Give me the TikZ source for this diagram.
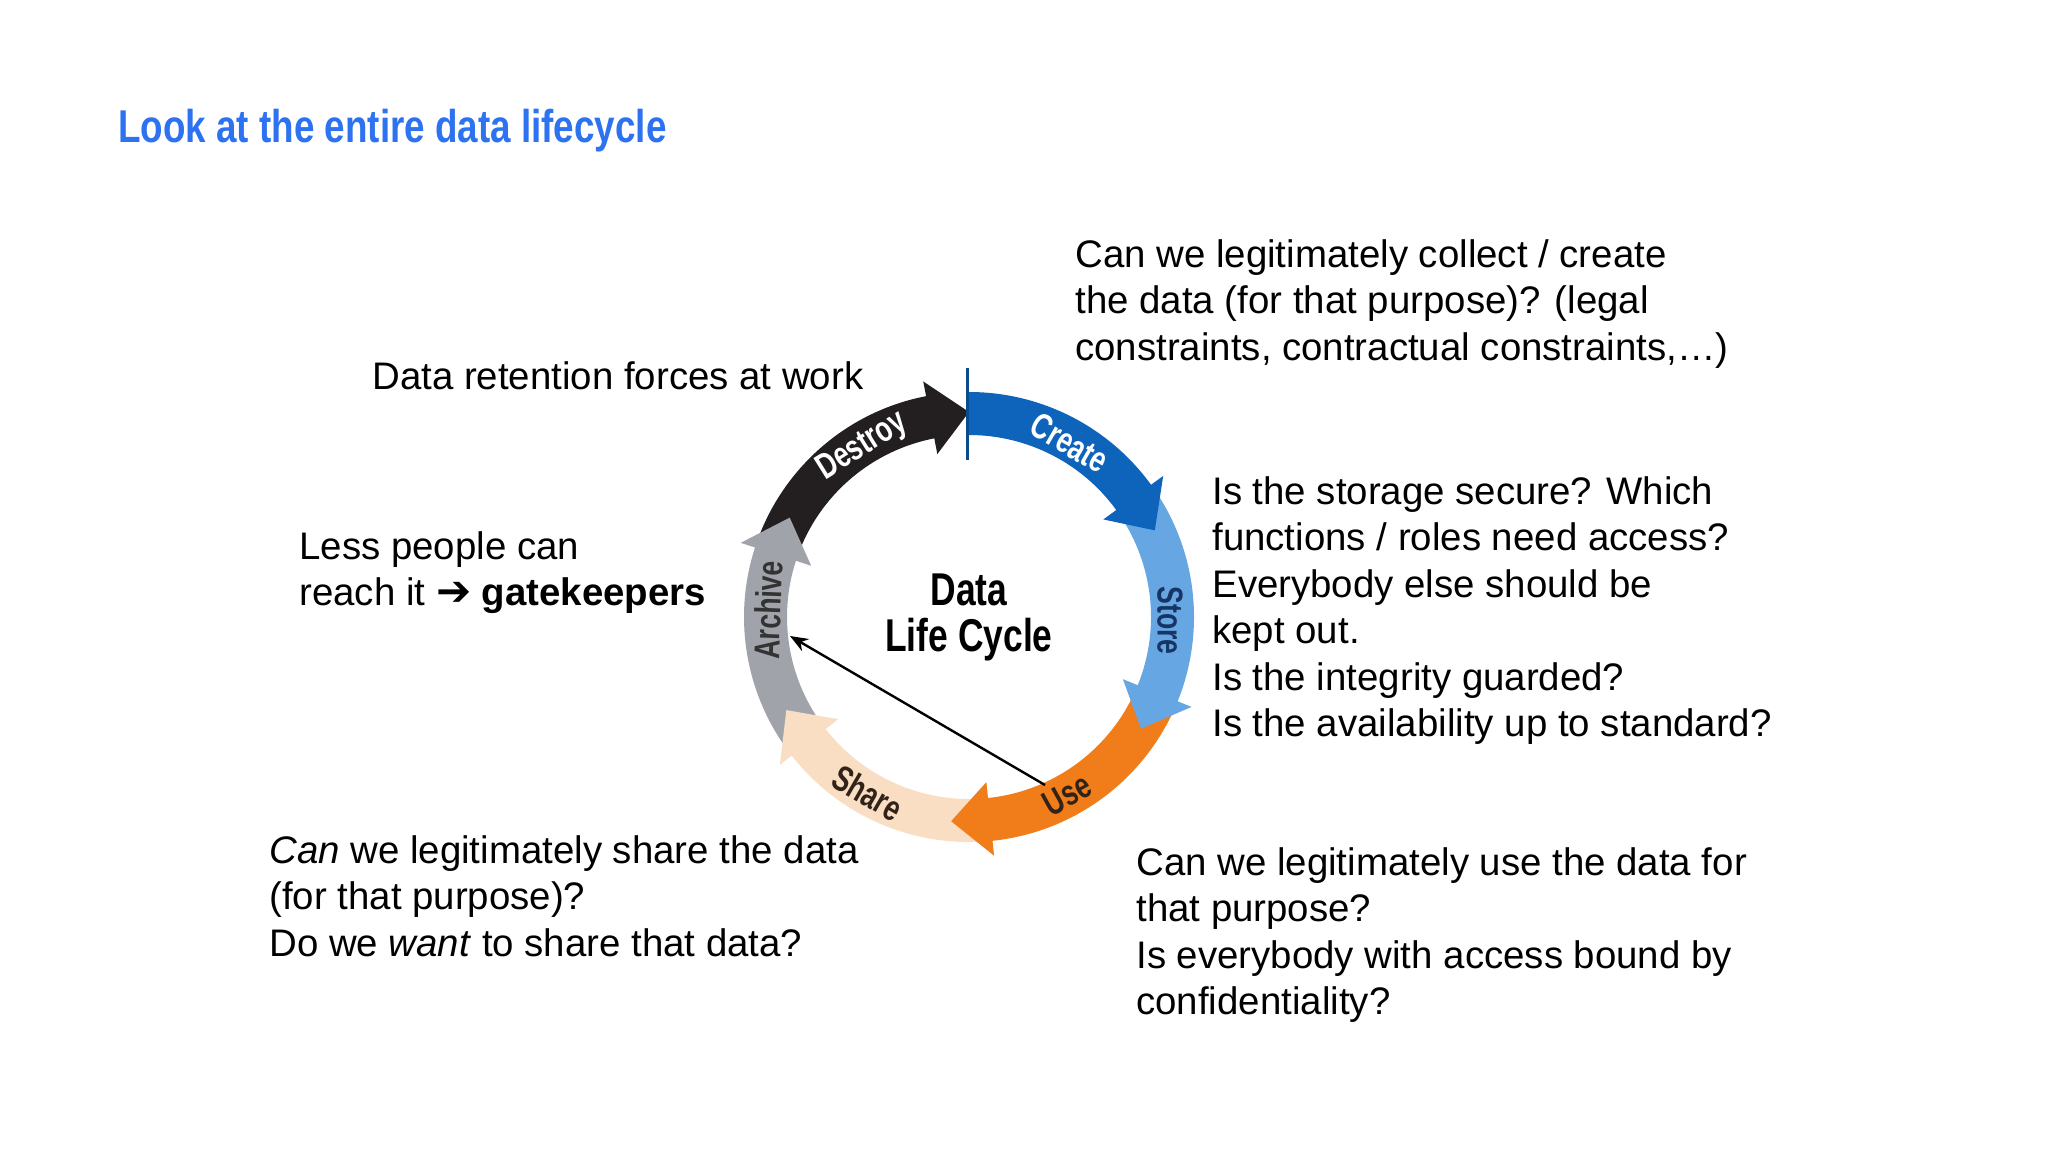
\documentclass[tikz,border=0pt]{standalone}
\usepackage{fontspec}
\setmainfont{Liberation Sans}
\newfontfamily\condfont[FakeStretch=0.8]{Liberation Sans}
\newfontfamily\labelfont[FakeStretch=0.74]{Liberation Sans}
\newfontfamily\centerfont[FakeStretch=0.77]{Liberation Sans}
\newfontfamily\dejavu{DejaVu Sans}
\usetikzlibrary{arrows.meta}
\definecolor{titleblue}{RGB}{45,114,240}
\definecolor{createblue}{RGB}{14,100,186}
\definecolor{storeblue}{RGB}{102,166,226}
\definecolor{useorange}{RGB}{240,125,25}
\definecolor{sharepeach}{RGB}{250,222,195}
\definecolor{archivegrey}{RGB}{160,164,170}
\definecolor{destroyblack}{RGB}{35,31,32}
\definecolor{navy}{RGB}{22,52,100}
\definecolor{darkbrown}{RGB}{50,35,25}
\newcommand{\lcseg}[3]{%
  \pgfmathsetmacro\hb{#2+11}%
  \fill[#3] (#1:225) arc[start angle=#1, end angle=\hb, radius=225]
    -- (\hb:240) -- (#2:205) -- (\hb:166) -- (\hb:182)
    arc[start angle=\hb, end angle=#1, radius=182] -- cycle;}
\begin{document}
\begin{tikzpicture}[x=0.5pt, y=-0.5pt,
  bodytext/.style={anchor=north west, inner sep=0pt, align=left,
    font=\fontsize{19.2}{23.25}\selectfont},
  arclabel/.style={inner sep=0pt, font=\labelfont\bfseries\fontsize{18}{18}\selectfont}]
\useasboundingbox[fill=white] (0,0) rectangle (2048,1152);

\node[anchor=base west, inner sep=0pt, text=titleblue,
  font=\condfont\bfseries\fontsize{23}{23}\selectfont] (title) at (118,142)
  {Look at the entire data lifecycle};

\begin{scope}[shift={(969,617)}, x=0.5pt, y=0.5pt]
  \lcseg{-198}{-270}{destroyblack}
  \lcseg{-142}{-209}{archivegrey}
  \lcseg{-84}{-153}{sharepeach}
  \lcseg{-22}{-95}{useorange}
  \lcseg{36}{-33}{storeblue}
  \lcseg{90}{25}{createblue}
  \coordinate (vtop) at (-2,249);
  \coordinate (vbot) at (-2,157);
  \draw[createblue!75!black, line width=1.5pt] (vtop) -- (vbot);
  \coordinate (usept) at (76,-168);
  \coordinate (archpt) at (-179,-19);
  \draw[line width=1.2pt, -{Stealth[length=9pt,width=7pt]}] (usept) -- (archpt);
  \node[arclabel, text=white, rotate=-30] (lcreate) at (60:201) {Create};
  \node[arclabel, text=navy, rotate=-90] (lstore) at (-1:201) {Store};
  \node[arclabel, text=darkbrown, rotate=29] (luse) at (-61:203) {Use};
  \node[arclabel, text=darkbrown, rotate=-30] (lshare) at (-120:203) {Share};
  \node[arclabel, text=black!80, rotate=88] (larchive) at (178:201) {Archive};
  \node[arclabel, text=white, rotate=32] (ldestroy) at (122:201) {Destroy};
  \node[align=center, inner sep=0pt,
    font=\centerfont\bfseries\fontsize{23}{23}\selectfont] (centre) at (0,0)
    {Data\\Life Cycle};
\end{scope}

\node[bodytext] (qcreate) at (1075,239)
  {Can we legitimately collect / create\\the data (for that purpose)? (legal\\constraints, contractual constraints,…)};
\node[bodytext] (qretain) at (372,361) {Data retention forces at work};
\node[bodytext] (qless) at (299,531)
  {Less people can\\reach it {\dejavu\bfseries\fontsize{21}{23}\selectfont ➔} \textbf{gatekeepers}};
\node[bodytext] (qstore) at (1212,476)
  {Is the storage secure? Which\\functions / roles need access?\\Everybody else should be\\kept out.\\Is the integrity guarded?\\Is the availability up to standard?};
\node[bodytext] (qshare) at (269,835)
  {\textit{Can} we legitimately share the data\\(for that purpose)?\\Do we \textit{want} to share that data?};
\node[bodytext] (quse) at (1136,847)
  {Can we legitimately use the data for\\that purpose?\\Is everybody with access bound by\\confidentiality?};
\end{tikzpicture}
\end{document}
